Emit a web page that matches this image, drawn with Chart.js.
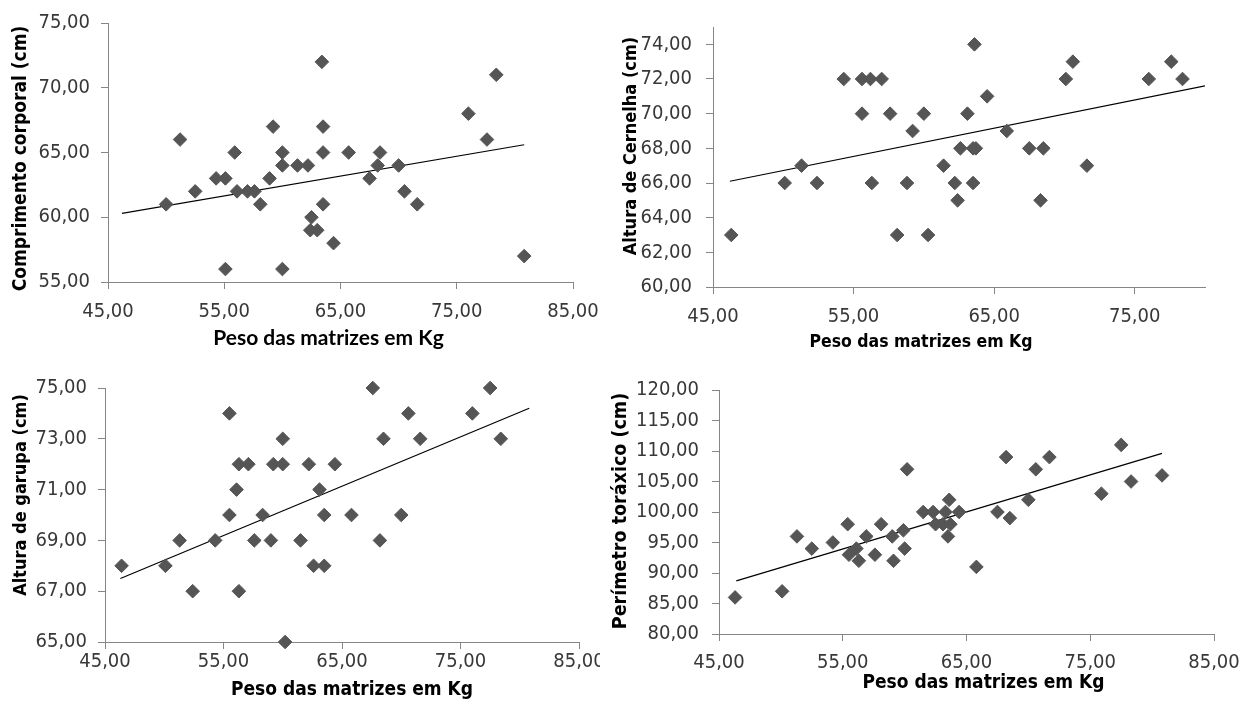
<!DOCTYPE html>
<html>
<head>
    <title>Peso das matrizes</title>
    <script src="https://cdn.jsdelivr.net/npm/chart.js"></script>
    <style>
        body { margin: 0; background: #fff; }
        #page { position: relative; width: 1256px; height: 706px; background: #fff; overflow: hidden; }
        canvas { position: absolute; }
        #clip3 { position: absolute; left: 0; top: 365px; width: 600px; height: 341px; overflow: hidden; }
    </style>
</head>
<body>
    <div id="page">
        <canvas id="c1" width="620" height="365" style="left:0;top:0"></canvas>
        <canvas id="c2" width="651" height="365" style="left:605px;top:0"></canvas>
        <div id="clip3"><canvas id="c3" width="620" height="341" style="left:0;top:0"></canvas></div>
        <canvas id="c4" width="651" height="341" style="left:605px;top:365px"></canvas>
    </div>

    <script>
        // tick labels
        const xTicks = [45, 55, 65, 75, 85];
        const y1Ticks = [55, 60, 65, 70, 75];
        const y2Ticks = [60, 62, 64, 66, 68, 70, 72, 74];
        const y3Ticks = [65, 67, 69, 71, 73, 75];
        const y4Ticks = [80, 85, 90, 95, 100, 105, 110, 115, 120];

        // Comprimento corporal
        const p1x = [50.0, 51.2, 52.5, 54.3, 55.1, 55.9, 55.1, 56.1, 57.0, 57.6, 58.1, 58.9, 59.2, 60.0, 60.0, 60.0, 61.3, 62.2, 62.5, 62.4, 63.0, 63.4, 63.5, 63.5, 63.5, 64.4, 65.7, 67.5, 68.2, 68.4, 70.0, 70.5, 71.6, 76.0, 77.6, 78.4, 80.8];
        const p1y = [61, 66, 62, 63, 63, 65, 56, 62, 62, 62, 61, 63, 67, 65, 64, 56, 64, 64, 60, 59, 59, 72, 67, 65, 61, 58, 65, 63, 64, 65, 64, 62, 61, 68, 66, 71, 57];
        const t1x = [46.2, 80.8];
        const t1y = [60.3, 65.6];

        // Altura de cernelha
        const p2x = [46.3, 50.1, 51.3, 52.4, 54.3, 55.6, 55.6, 56.2, 56.3, 57.0, 57.6, 58.1, 58.8, 59.2, 60.0, 60.3, 61.4, 62.2, 62.4, 62.6, 63.1, 63.5, 63.7, 63.5, 63.6, 64.5, 65.9, 67.5, 68.5, 68.3, 70.1, 70.6, 71.6, 76.0, 77.6, 78.4];
        const p2y = [63, 66, 67, 66, 72, 72, 70, 72, 66, 72, 70, 63, 66, 69, 70, 63, 67, 66, 65, 68, 70, 68, 68, 66, 74, 71, 69, 68, 68, 65, 72, 73, 67, 72, 73, 72];
        const t2x = [46.2, 80.0];
        const t2y = [66.1, 71.6];

        // Altura de garupa
        const p3x = [46.4, 50.1, 51.3, 52.4, 54.3, 55.5, 55.5, 56.1, 56.3, 56.3, 57.1, 57.6, 58.3, 59.0, 59.2, 60.0, 60.0, 60.2, 61.5, 62.2, 62.6, 63.1, 63.5, 63.5, 64.4, 65.8, 67.6, 68.5, 68.2, 70.0, 70.6, 71.6, 76.0, 77.5, 78.4];
        const p3y = [68, 68, 69, 67, 69, 74, 70, 71, 72, 67, 72, 69, 70, 69, 72, 73, 72, 65, 69, 72, 68, 71, 68, 70, 72, 70, 75, 73, 69, 70, 74, 73, 74, 75, 73];
        const t3x = [46.3, 80.8];
        const t3y = [67.5, 74.2];

        // Perimetro toraxico
        const p4x = [46.3, 50.1, 51.3, 52.5, 54.2, 55.4, 55.5, 56.1, 56.3, 56.9, 57.6, 58.1, 59.0, 59.1, 59.9, 60.0, 60.2, 61.5, 62.3, 62.5, 63.3, 63.6, 63.1, 63.5, 63.7, 64.4, 65.8, 67.5, 68.2, 68.5, 70.0, 70.6, 71.7, 75.9, 77.5, 78.3, 80.8];
        const p4y = [86, 87, 96, 94, 95, 98, 93, 94, 92, 96, 93, 98, 96, 92, 97, 94, 107, 100, 100, 98, 100, 102, 98, 96, 98, 100, 91, 100, 109, 99, 102, 107, 109, 103, 111, 105, 106];
        const t4x = [46.4, 80.8];
        const t4y = [88.7, 109.6];

        const xTitle = "Peso das matrizes em Kg";
        const yTitles = ["Comprimento corporal (cm)", "Altura de Cernelha (cm)", "Altura de garupa (cm)", "Perímetro toráxico (cm)"];

        const VERD = "'DejaVu Sans Condensed', 'DejaVu Sans', sans-serif";
        const axisGray = "#868686";

        function pts(xs, ys) {
            return xs.map((x, i) => ({ x: x, y: ys[i] }));
        }
        function fmt(v) {
            return v.toFixed(2).replace(".", ",");
        }
        function fixedTicks(list) {
            return sc => {
                sc.ticks = list.filter(v => v >= sc.min && v <= sc.max).map(v => ({ value: v }));
            };
        }

        // axis titles drawn by hand so they can sit off-centre like the original
        const axisTitles = {
            id: "axisTitles",
            afterDraw(chart, args, o) {
                const ctx = chart.ctx;
                const a = chart.chartArea;
                ctx.save();
                ctx.fillStyle = "#000";
                ctx.textAlign = "center";
                ctx.textBaseline = "middle";
                ctx.font = o.xFont;
                ctx.fillText(o.xText, (a.left + a.right) / 2 + o.xShift, a.bottom + o.xDrop);
                ctx.translate(o.yX, (a.top + a.bottom) / 2 + o.yShift);
                ctx.rotate(-Math.PI / 2);
                ctx.font = o.yFont;
                ctx.fillText(o.yText, 0, 0);
                ctx.restore();
            }
        };

        function panel(id, s) {
            new Chart(document.getElementById(id), {
                type: "scatter",
                data: {
                    datasets: [{
                        data: pts(s.px, s.py),
                        pointStyle: "rectRot",
                        pointRadius: 6.8,
                        backgroundColor: "#555555",
                        borderColor: "#555555",
                        borderWidth: 1,
                        clip: false
                    }, {
                        type: "line",
                        data: pts(s.tx, s.ty),
                        borderColor: "#000",
                        borderWidth: 1.2,
                        pointRadius: 0,
                        fill: false
                    }]
                },
                options: {
                    responsive: false,
                    animation: false,
                    devicePixelRatio: 1,
                    events: [],
                    layout: { padding: s.pad },
                    plugins: {
                        legend: { display: false },
                        tooltip: { enabled: false },
                        axisTitles: s.titles
                    },
                    scales: {
                        x: {
                            type: "linear",
                            min: s.xMin, max: s.xMax,
                            afterBuildTicks: fixedTicks(xTicks),
                            afterFit: sc => { sc.height = s.xH; },
                            grid: { drawOnChartArea: false, tickLength: 7, color: axisGray },
                            border: { color: axisGray },
                            ticks: {
                                padding: s.xPad, color: "#383838",
                                font: { family: VERD, size: 20 },
                                maxRotation: 0, callback: fmt
                            }
                        },
                        y: {
                            min: s.yMin, max: s.yMax,
                            afterBuildTicks: fixedTicks(s.yTicks),
                            afterFit: sc => { sc.width = s.yW; },
                            grid: { drawOnChartArea: false, tickLength: 7, color: axisGray },
                            border: { color: axisGray },
                            ticks: {
                                padding: s.yPad, color: "#383838",
                                font: { family: VERD, size: 20 },
                                callback: fmt
                            }
                        }
                    }
                },
                plugins: [axisTitles]
            });
        }

        panel("c1", {
            px: p1x, py: p1y, tx: t1x, ty: t1y,
            xMin: 45, xMax: 85, yMin: 55, yMax: 75, yTicks: y1Ticks,
            pad: { left: 0, top: 22, right: 47, bottom: 0 }, yW: 108, xH: 83, xPad: 11, yPad: 11,
            titles: {
                xText: xTitle, xFont: "bold 21px Lato, 'Open Sans', sans-serif", xShift: -12, xDrop: 56,
                yText: yTitles[0], yFont: "bold 19px " + VERD, yX: 21, yShift: 6
            }
        });

        panel("c2", {
            px: p2x, py: p2y, tx: t2x, ty: t2y,
            xMin: 45, xMax: 80, yMin: 60, yMax: 75, yTicks: y2Ticks,
            pad: { left: 0, top: 27, right: 51, bottom: 0 }, yW: 108, xH: 78, xPad: 11, yPad: 14,
            titles: {
                xText: xTitle, xFont: "bold 17.5px " + VERD, xShift: -38, xDrop: 55,
                yText: yTitles[1], yFont: "bold 18px " + VERD, yX: 26, yShift: -11
            }
        });

        panel("c3", {
            px: p3x, py: p3y, tx: t3x, ty: t3y,
            xMin: 45, xMax: 85, yMin: 65, yMax: 75, yTicks: y3Ticks,
            pad: { left: 0, top: 23, right: 41, bottom: 0 }, yW: 105, xH: 64, xPad: 1, yPad: 11,
            titles: {
                xText: xTitle, xFont: "bold 19px " + VERD, xShift: 10, xDrop: 48,
                yText: yTitles[2], yFont: "bold 18px " + VERD, yX: 21, yShift: -20
            }
        });

        panel("c4", {
            px: p4x, py: p4y, tx: t4x, ty: t4y,
            xMin: 45, xMax: 85, yMin: 80, yMax: 120, yTicks: y4Ticks,
            pad: { left: 0, top: 15, right: 42, bottom: 0 }, yW: 114, xH: 72, xPad: 10, yPad: 13,
            titles: {
                xText: xTitle, xFont: "bold 19px " + VERD, xShift: 17, xDrop: 49,
                yText: yTitles[3], yFont: "bold 19.5px " + VERD, yX: 16, yShift: -1
            }
        });
    </script>
</body>
</html>
